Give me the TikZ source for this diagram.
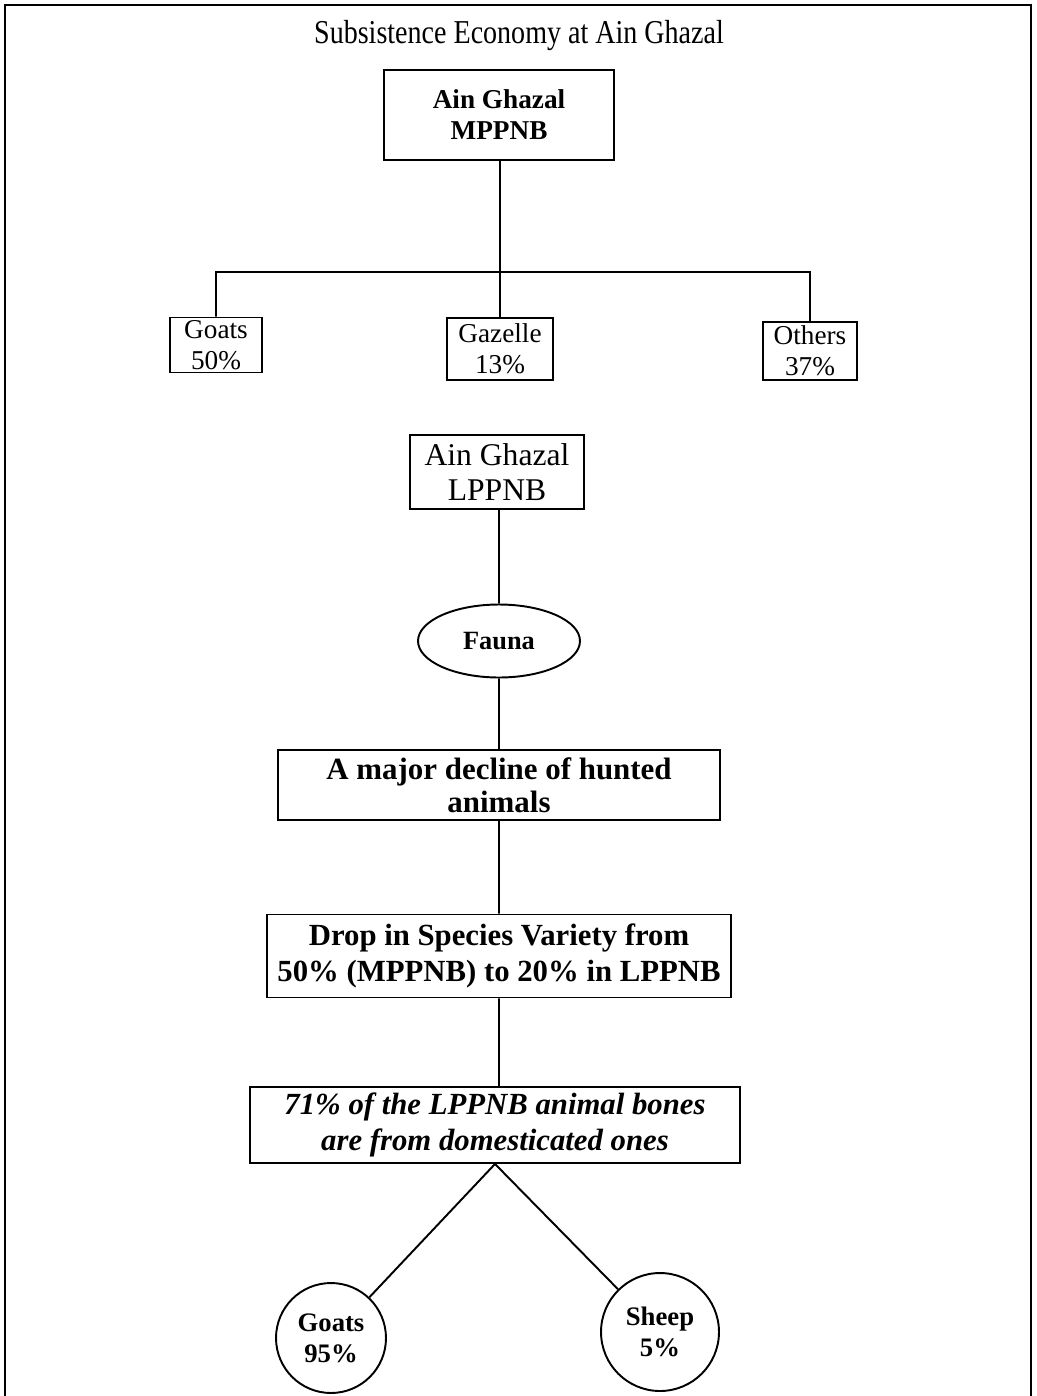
\documentclass[tikz,border=0pt]{standalone}
\usepackage{fontspec}
\setmainfont{Liberation Serif}
\usetikzlibrary{positioning, shapes.geometric}
\tikzset{
  box/.style={
    rectangle, draw, line width=1.1pt, align=center, inner sep=1pt,
    font=\fontsize{15.5}{17.6}\selectfont
  },
  boldbox/.style={box, font=\fontsize{15.5}{17.6}\selectfont\bfseries},
  bigbox/.style={box, font=\fontsize{17.6}{18.6}\selectfont\bfseries},
  oval/.style={
    ellipse, draw, line width=1.1pt, inner sep=0pt,
    font=\fontsize{15}{17}\selectfont\bfseries
  },
  share/.style={
    circle, draw, line width=1.1pt, align=center, inner sep=0pt,
    font=\fontsize{15.2}{17.6}\selectfont\bfseries
  },
  link/.style={draw, line width=1.1pt},
}

\begin{document}
\begin{tikzpicture}[x=0.02cm, y=-0.02cm]
  \useasboundingbox (0,0) rectangle (1037,1396);
  \draw[line width=1.3pt] (5,1396) -- (5,5) -- (1031,5) -- (1031,1396);

  \node[font=\fontsize{19}{21}\selectfont, xscale=0.84, transform shape] (title) at (519,36) {Subsistence Economy at Ain Ghazal};

  \node[boldbox, minimum width=4.6cm, minimum height=1.8cm] (mppnb) at (499,115) {Ain Ghazal\\MPPNB};
  \node[box, minimum width=1.84cm, minimum height=1.1cm] (goatsA) at (216,345) {Goats\\50\%};
  \node[box, minimum width=2.12cm, minimum height=1.24cm] (gazelle) at (500,349) {Gazelle\\13\%};
  \node[box, minimum width=1.88cm, minimum height=1.16cm] (othersA) at (810,351) {Others\\37\%};
  \coordinate (bar) at (500,272);

  \node[box, minimum width=3.48cm, minimum height=1.48cm, font=\fontsize{18}{19.5}\selectfont] (lppnb) at (497,472) {Ain Ghazal\\LPPNB};
  \coordinate (spine) at (499,0);
  \node[oval, minimum width=3.24cm, minimum height=1.46cm] (fauna) at (499,641) {Fauna};
  \node[bigbox, minimum width=8.86cm, minimum height=1.4cm] (decline) at (499,785) {A major decline of hunted\\animals};
  \node[bigbox, minimum width=9.28cm, minimum height=1.66cm, font=\fontsize{17.5}{20.5}\selectfont\bfseries] (drop) at (499,956) {Drop in Species Variety from\\50\% (MPPNB) to 20\% in LPPNB};
  \node[bigbox, minimum width=9.82cm, minimum height=1.52cm, font=\fontsize{17.5}{20}\selectfont\bfseries\itshape] (bones) at (495,1125) {71\% of the LPPNB animal bones\\are from domesticated ones};
  \node[share, minimum size=2.2cm] (goatsB) at (331,1338) {Goats\\95\%};
  \node[share, minimum size=2.36cm] (sheep) at (660,1332) {Sheep\\5\%};

  \path[link] (mppnb.south -| bar) -- (gazelle.north -| bar)
              (goatsA.north) |- (bar) -| (othersA.north)
              (lppnb.south -| spine) -- (fauna.north)
              (fauna) -- (decline)
              (decline) -- (drop)
              (drop.south) -- (bones.north -| drop.south)
              (bones.south) -- (goatsB)
              (bones.south) -- (sheep);
\end{tikzpicture}
\end{document}
